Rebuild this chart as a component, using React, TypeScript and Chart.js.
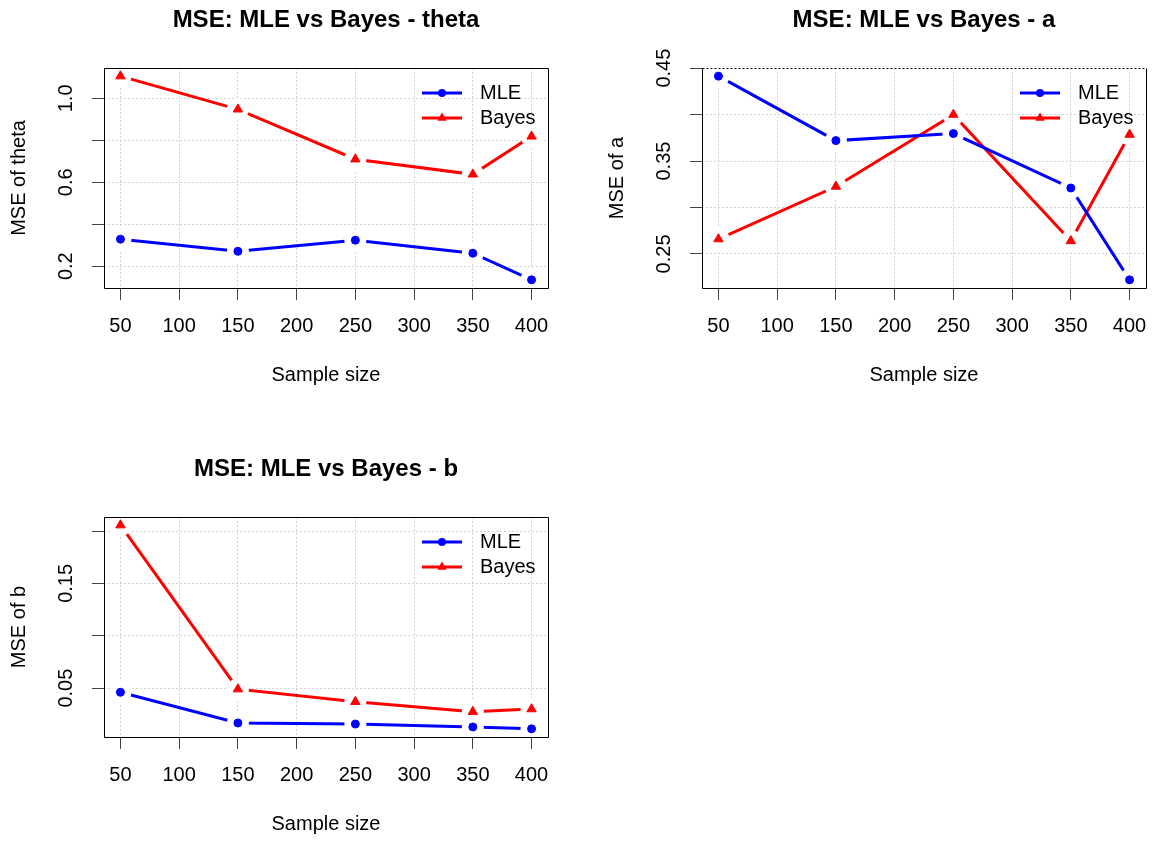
import React, { useEffect, useRef } from 'react';
import { Chart, registerables } from 'chart.js';

Chart.register(...registerables);

// ---------- data ----------
const sampleSizes = [50, 150, 250, 350, 400];
const xTicks = [50, 100, 150, 200, 250, 300, 350, 400];
const seriesNames = ['MLE', 'Bayes'];

const thetaMLE = [0.329, 0.271, 0.324, 0.262, 0.135];
const thetaBayes = [1.106, 0.948, 0.71, 0.638, 0.819];

const aMLE = [0.4414, 0.372, 0.3796, 0.321, 0.2221];
const aBayes = [0.266, 0.3226, 0.4, 0.264, 0.3785];

const bMLE = [0.046, 0.0167, 0.0157, 0.0129, 0.0111];
const bBayes = [0.2056, 0.049, 0.037, 0.0275, 0.03];

const thetaYTicks = [0.2, 0.4, 0.6, 0.8, 1.0];
const thetaYLabels = [0.2, 0.6, 1.0];
const aYTicks = [0.25, 0.3, 0.35, 0.4, 0.45];
const aYLabels = [0.25, 0.35, 0.45];
const bYTicks = [0.05, 0.1, 0.15, 0.2];
const bYLabels = [0.05, 0.15];

// ---------- style ----------
const W = 1157;
const H = 844;
const BLUE = '#0000FF';
const RED = '#FF0000';
const FONT = '"Liberation Sans", Arial, Helvetica, sans-serif';

type Box = { left: number; top: number; right: number; bottom: number };
type Panel = {
  title: string;
  yTitle: string;
  mle: number[];
  bayes: number[];
  yTicks: number[];
  yLabels: number[];
  decimals: number;
  box: Box;
  dottedTop: boolean;
};

const panels: Panel[] = [
  {
    title: 'MSE: MLE vs Bayes - theta',
    yTitle: 'MSE of theta',
    mle: thetaMLE,
    bayes: thetaBayes,
    yTicks: thetaYTicks,
    yLabels: thetaYLabels,
    decimals: 1,
    box: { left: 104, top: 68, right: 548, bottom: 288 },
    dottedTop: false,
  },
  {
    title: 'MSE: MLE vs Bayes - a',
    yTitle: 'MSE of a',
    mle: aMLE,
    bayes: aBayes,
    yTicks: aYTicks,
    yLabels: aYLabels,
    decimals: 2,
    box: { left: 702, top: 68, right: 1147, bottom: 288 },
    dottedTop: true,
  },
  {
    title: 'MSE: MLE vs Bayes - b',
    yTitle: 'MSE of b',
    mle: bMLE,
    bayes: bBayes,
    yTicks: bYTicks,
    yLabels: bYLabels,
    decimals: 2,
    box: { left: 104, top: 517, right: 548, bottom: 737 },
    dottedTop: false,
  },
];

function rRange(values: number[]): [number, number] {
  const lo = Math.min(...values);
  const hi = Math.max(...values);
  const d = hi - lo;
  return [lo - 0.04 * d, hi + 0.04 * d];
}

function drawMarker(ctx: CanvasRenderingContext2D, style: string, x: number, y: number, color: string) {
  ctx.fillStyle = color;
  ctx.beginPath();
  if (style === 'circle') {
    ctx.arc(x, y, 4, 0, Math.PI * 2);
  } else {
    const r = 5.4;
    for (let k = 0; k < 3; k++) {
      const a = (k * 2 * Math.PI) / 3;
      const px = x + Math.sin(a) * r;
      const py = y - Math.cos(a) * r;
      if (k === 0) ctx.moveTo(px, py);
      else ctx.lineTo(px, py);
    }
    ctx.closePath();
  }
  ctx.fill();
}

function makeDecor(p: Panel) {
  return {
    id: 'rdecor',
    afterDatasetsDraw(chart: any) {
      const { ctx, chartArea: ca, scales } = chart;
      const xs = scales.x;
      const ys = scales.y;
      ctx.save();
      // box
      ctx.strokeStyle = '#000';
      ctx.lineWidth = 1;
      const L = Math.round(ca.left) + 0.5;
      const R = Math.round(ca.right) + 0.5;
      const T = Math.round(ca.top) + 0.5;
      const B = Math.round(ca.bottom) + 0.5;
      ctx.beginPath();
      ctx.moveTo(L, T);
      ctx.lineTo(L, B);
      ctx.lineTo(R, B);
      ctx.lineTo(R, T);
      ctx.stroke();
      if (p.dottedTop) ctx.setLineDash([2, 2]);
      ctx.beginPath();
      ctx.moveTo(L, T);
      ctx.lineTo(R, T);
      ctx.stroke();
      ctx.setLineDash([]);

      ctx.fillStyle = '#000';
      ctx.textAlign = 'center';
      ctx.textBaseline = 'middle';
      const cx = (ca.left + ca.right) / 2;
      const cy = (ca.top + ca.bottom) / 2;

      // title
      ctx.font = `bold 24px ${FONT}`;
      ctx.fillText(p.title, cx, ca.top - 48);

      // x tick labels + title
      ctx.font = `20px ${FONT}`;
      xs.ticks.forEach((t: any) => {
        ctx.fillText(String(t.value), xs.getPixelForValue(t.value), ca.bottom + 38);
      });
      ctx.fillText('Sample size', cx, ca.bottom + 87.5);

      // y tick labels (rotated, parallel to axis)
      p.yLabels.forEach((v) => {
        const y = ys.getPixelForValue(v);
        ctx.save();
        ctx.translate(ca.left - 38, y);
        ctx.rotate(-Math.PI / 2);
        ctx.fillText(v.toFixed(p.decimals), 0, 0);
        ctx.restore();
      });
      // y title
      ctx.save();
      ctx.translate(ca.left - 85, cy);
      ctx.rotate(-Math.PI / 2);
      ctx.fillText(p.yTitle, 0, 0);
      ctx.restore();

      // legend
      const colors = [BLUE, RED];
      const styles = ['circle', 'triangle'];
      ctx.textAlign = 'left';
      seriesNames.forEach((name, i) => {
        const ly = ca.top + 25 + i * 25;
        const x0 = ca.right - 126;
        const x1 = ca.right - 86;
        ctx.strokeStyle = colors[i];
        ctx.lineWidth = 3;
        ctx.beginPath();
        ctx.moveTo(x0, ly);
        ctx.lineTo(x1, ly);
        ctx.stroke();
        drawMarker(ctx, styles[i], (x0 + x1) / 2, ly, colors[i]);
        ctx.fillStyle = '#000';
        ctx.fillText(name, ca.right - 68, ly);
      });
      ctx.restore();
    },
  };
}

function buildConfig(p: Panel): any {
  const [ymin, ymax] = rRange([...p.mle, ...p.bayes]);
  const [xmin, xmax] = rRange(sampleSizes);
  const pts = (arr: number[]) => sampleSizes.map((x, i) => ({ x, y: arr[i] }));
  const lineDs = (arr: number[], color: string) => ({
    data: pts(arr),
    borderColor: color,
    borderWidth: 3,
    pointRadius: 0,
    tension: 0,
    fill: false,
    borderCapStyle: 'butt',
    order: 2,
  });
  const maskDs = (arr: number[]) => ({
    data: pts(arr),
    showLine: false,
    pointRadius: 11,
    pointStyle: 'circle',
    pointBackgroundColor: '#FFFFFF',
    pointBorderWidth: 0,
    pointBorderColor: 'rgba(0,0,0,0)',
    clip: 0,
    order: 1,
  });
  const markDs = (arr: number[], color: string, style: string, r: number) => ({
    data: pts(arr),
    showLine: false,
    pointRadius: r,
    pointStyle: style,
    pointBackgroundColor: color,
    pointBorderColor: color,
    pointBorderWidth: 1,
    order: 0,
  });

  const gridOpts = {
    color: '#D3D3D3',
    lineWidth: 1,
    drawTicks: true,
    tickLength: 12,
    tickColor: '#444',
    tickWidth: 1,
    tickBorderDash: [],
  };
  const borderOpts = { display: false, dash: [2, 2] };

  return {
    type: 'line',
    data: {
      datasets: [
        lineDs(p.mle, BLUE),
        lineDs(p.bayes, RED),
        maskDs(p.mle),
        maskDs(p.bayes),
        markDs(p.mle, BLUE, 'circle', 4),
        markDs(p.bayes, RED, 'triangle', 5.4),
      ],
    },
    options: {
      responsive: false,
      animation: false,
      events: [],
      devicePixelRatio: 1,
      layout: {
        padding: {
          left: p.box.left - 14,
          top: p.box.top,
          right: W - p.box.right,
          bottom: H - p.box.bottom - 14,
        },
      },
      plugins: {
        legend: { display: false },
        tooltip: { enabled: false },
        title: { display: false },
      },
      scales: {
        x: {
          type: 'linear',
          min: xmin,
          max: xmax,
          afterBuildTicks: (s: any) => {
            s.ticks = xTicks.map((v) => ({ value: v }));
          },
          afterFit: (s: any) => {
            s.height = 14;
          },
          ticks: { display: false },
          grid: gridOpts,
          border: borderOpts,
        },
        y: {
          type: 'linear',
          min: ymin,
          max: ymax,
          afterBuildTicks: (s: any) => {
            s.ticks = p.yTicks.map((v) => ({ value: v }));
          },
          afterFit: (s: any) => {
            s.width = 14;
          },
          ticks: { display: false },
          grid: gridOpts,
          border: borderOpts,
        },
      },
    },
    plugins: [makeDecor(p)],
  };
}

function PanelCanvas({ panel }: { panel: Panel }) {
  const ref = useRef<HTMLCanvasElement | null>(null);
  useEffect(() => {
    if (!ref.current) return;
    const chart = new Chart(ref.current, buildConfig(panel));
    return () => chart.destroy();
  }, [panel]);
  return (
    <canvas
      ref={ref}
      width={W}
      height={H}
      style={{ position: 'absolute', left: 0, top: 0, width: W, height: H }}
    />
  );
}

export default function App() {
  return (
    <div
      style={{
        position: 'absolute',
        left: 0,
        top: 0,
        width: W,
        height: H,
        background: '#FFFFFF',
        overflow: 'hidden',
      }}
    >
      {panels.map((p, i) => (
        <PanelCanvas key={i} panel={p} />
      ))}
    </div>
  );
}
